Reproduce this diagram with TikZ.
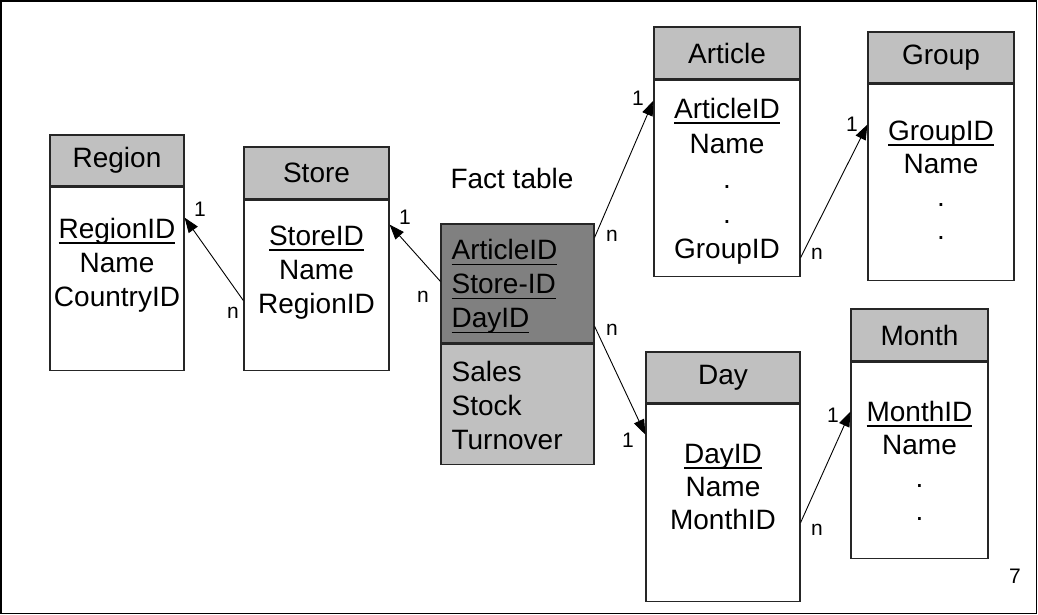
\documentclass[tikz,border=0pt]{standalone}
\usepackage{fontspec}
\setmainfont{Liberation Sans}
\usetikzlibrary{positioning,arrows.meta}
\definecolor{silver}{HTML}{C0C0C0}
\definecolor{keygray}{HTML}{808080}
\newcommand{\pkey}[1]{\setbox0\hbox{#1}\rlap{\rule[-5.5pt]{\wd0}{1.6pt}}\box0}

\begin{document}
\begin{tikzpicture}[x=1pt, y=-1pt]
\tikzstyle{head}=[rectangle, draw=black!85, line width=1.2pt, fill=silver, inner sep=0pt, font=\fontsize{28}{34}\selectfont]
\tikzstyle{body}=[rectangle, draw=black!85, line width=1.2pt, fill=white, inner sep=0pt]
\tikzstyle{fields}=[align=center, inner sep=0pt, font=\fontsize{28}{34}\selectfont]
\tikzstyle{card}=[inner sep=0pt, font=\fontsize{21}{21}\selectfont]
\tikzstyle{connect}=[-{Triangle[length=15pt,width=11pt]}, line width=0.9pt]

  \useasboundingbox (0,0) rectangle (1038,615);
  \draw[line width=1.5pt] (1,1) rectangle (1036.5,613.5);

  % dimension tables
  \node[head, minimum width=134pt, minimum height=51pt] (region) at (117,160.5) {Region};
  \node[body, minimum width=134pt, minimum height=183pt, below=0pt of region] (regionbody) {};
  \node[fields, below=31pt of region.south] (regionfields) {\pkey{RegionID}\\Name\\CountryID};

  \node[head, minimum width=145pt, minimum height=52pt] (store) at (316.5,173) {Store};
  \node[body, minimum width=145pt, minimum height=170pt, below=0pt of store] (storebody) {};
  \node[fields, below=26pt of store.south] (storefields) {\pkey{StoreID}\\Name\\RegionID};

  \node[head, minimum width=146pt, minimum height=52pt] (article) at (727,53) {Article};
  \node[body, minimum width=146pt, minimum height=196pt, below=0pt of article] (articlebody) {};
  \node[fields, font=\fontsize{28}{35}\selectfont, below=18pt of article.south] (articlefields) {\pkey{ArticleID}\\Name\\.\\.\\GroupID};

  \node[head, minimum width=146pt, minimum height=51pt] (group) at (941,57.5) {Group};
  \node[body, minimum width=146pt, minimum height=196pt, below=0pt of group] (groupbody) {};
  \node[fields, font=\fontsize{28}{33}\selectfont, below=37pt of group.south] (groupfields) {\pkey{GroupID}\\Name\\.\\.};

  \node[head, minimum width=154pt, minimum height=51pt] (day) at (723,377.5) {Day};
  \node[body, minimum width=154pt, minimum height=197pt, below=0pt of day] (daybody) {};
  \node[fields, font=\fontsize{28}{33}\selectfont, below=40pt of day.south] (dayfields) {\pkey{DayID}\\Name\\MonthID};

  \node[head, minimum width=137pt, minimum height=52pt] (month) at (919.5,335) {Month};
  \node[body, minimum width=137pt, minimum height=196pt, below=0pt of month] (monthbody) {};
  \node[fields, font=\fontsize{28}{33}\selectfont, below=39pt of month.south] (monthfields) {\pkey{MonthID}\\Name\\.\\.};

  % fact table
  \node[fields] (facttitle) at (512,178) {Fact table};
  \node[head, minimum width=153pt, minimum height=119pt, fill=keygray] (fact) at (517.5,283.5) {};
  \node[body, minimum width=153pt, minimum height=120pt, fill=silver, below=0pt of fact] (measures) {};
  \node[fields, align=left, below right=16pt and 11pt of fact.north west] (factkeys) {\pkey{ArticleID}\\\pkey{Store-ID}\\\pkey{DayID}};
  \node[fields, align=left, below right=17pt and 11pt of measures.north west] (measurefields) {Sales\\Stock\\Turnover};

  \path ([yshift=-58pt]fact.north west) edge [connect] ([yshift=-25pt]storebody.north east)
        ([yshift=-101pt]storebody.north west) edge [connect] ([yshift=-31pt]regionbody.north east)
        ([yshift=-14pt]fact.north east) edge [connect] ([yshift=-21pt]articlebody.north west)
        ([yshift=-178pt]articlebody.north east) edge [connect] ([yshift=-41pt]groupbody.north west)
        ([yshift=-103pt]fact.north east) edge [connect] ([yshift=-31pt]daybody.north west)
        ([yshift=-119pt]daybody.north east) edge [connect] ([yshift=-50pt]monthbody.north west);

  % cardinalities
  \node[card] (regionone) at (200,209) {1};
  \node[card] (storen)    at (233,313) {n};
  \node[card] (storeone)  at (405,217) {1};
  \node[card] (factnw)    at (423,297) {n};
  \node[card] (factne)    at (612,236) {n};
  \node[card] (articleone) at (638,98) {1};
  \node[card] (articlen)  at (817,254) {n};
  \node[card] (groupone)  at (852,124) {1};
  \node[card] (factse)    at (612,330) {n};
  \node[card] (dayone)    at (628,440) {1};
  \node[card] (monthone)  at (833,415) {1};
  \node[card] (dayn)      at (817,530) {n};
  \node[card] (pagenum)   at (1015,576) {7};

\end{tikzpicture}
\end{document}
